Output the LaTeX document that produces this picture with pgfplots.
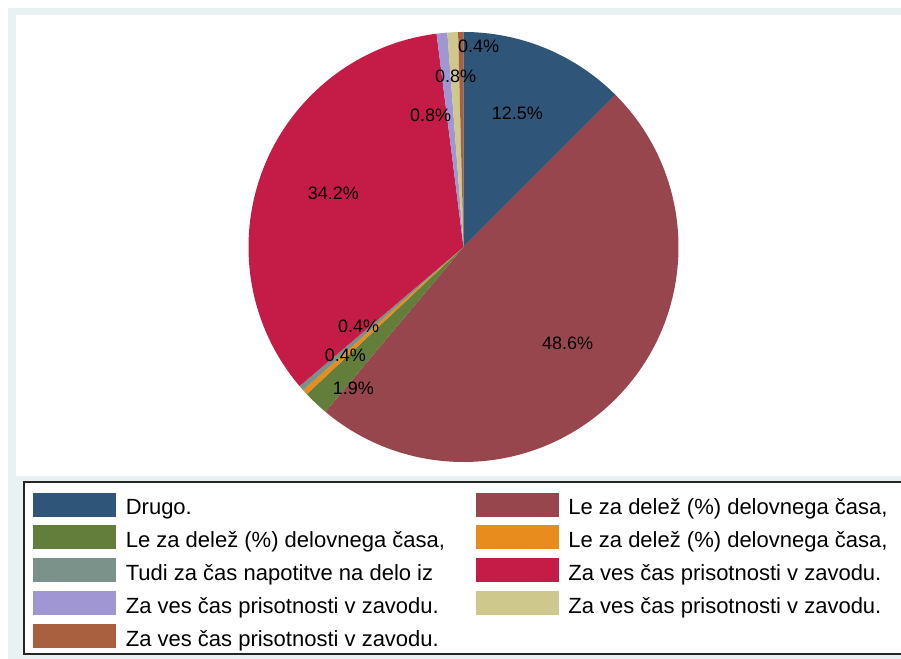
\documentclass[border=0pt]{standalone}
\usepackage{pgfplots}
\pgfplotsset{compat=1.18}
\usepackage{fontspec}
\setmainfont{Liberation Sans}
\definecolor{cA}{HTML}{2F5578}
\definecolor{cB}{HTML}{98464D}
\definecolor{cC}{HTML}{637E3A}
\definecolor{cD}{HTML}{E88C1E}
\definecolor{cE}{HTML}{7A928A}
\definecolor{cF}{HTML}{C41C46}
\definecolor{cG}{HTML}{A096D4}
\definecolor{cH}{HTML}{CEC88D}
\definecolor{cI}{HTML}{A8603E}
\definecolor{paleband}{HTML}{E9F1F3}
\newcommand\pieleg[1]{\addlegendimage{legend image code/.code={\fill[#1] (0pt,-0.75pt) rectangle (61.5pt,16.5pt);}}}
\newcommand\legtxt[1]{\makebox[270pt][l]{\hspace*{7.5pt}#1}}
\newcommand\pct[1]{{\fontsize{13.5}{16}\selectfont #1}}
\begin{document}
\begin{tikzpicture}
\useasboundingbox (0pt,0pt) rectangle (675.75pt,494.25pt);
\fill[white] (0pt,0pt) rectangle (675.75pt,494.25pt);
\fill[paleband] (6pt,0pt) rectangle (675.75pt,488.25pt);
\fill[white] (12pt,137.25pt) rectangle (675.75pt,483pt);
\filldraw[fill=white, draw=black!85, line width=1pt] (18pt,3.75pt) rectangle (680pt,132.75pt);
\begin{axis}[
  at={(347.625pt,309pt)}, anchor=center,
  width=322.5pt, height=322.5pt, scale only axis,
  xmin=-1, xmax=1, ymin=-1, ymax=1,
  hide axis, clip=false,
  legend columns=2,
  legend style={at={(-0.5005,-0.0714)}, anchor=north west,
    draw=none, fill=none, inner sep=0pt, outer sep=0pt,
    row sep=6.95pt, column sep=0pt,
    nodes={inner sep=0pt, outer sep=0pt, text depth=0pt},
    cells={anchor=base west},
    font=\fontsize{16.5}{19.8}\selectfont},
]
\gdef\cumang{90}
\foreach \v/\c in {12.5/cA,48.6/cB,1.9/cC,0.4/cD,0.4/cE,34.2/cF,0.8/cG,0.8/cH,0.4/cI}{
  \pgfmathsetmacro\angb{\cumang-3.6*\v}
  \edef\temp{\noexpand\fill[\c] (axis cs:0,0) -- (axis cs:{cos(\cumang)},{sin(\cumang)}) arc[start angle=\cumang, end angle=\angb, radius=161.25pt] -- cycle;}
  \temp
  \xdef\cumang{\angb}
}
\node at (axis cs:0.251,0.623) {\pct{12.5\%}};
\node at (axis cs:0.484,-0.447) {\pct{48.6\%}};
\node at (axis cs:-0.512,-0.656) {\pct{1.9\%}};
\node at (axis cs:-0.549,-0.502) {\pct{0.4\%}};
\node at (axis cs:-0.488,-0.367) {\pct{0.4\%}};
\node at (axis cs:-0.605,0.251) {\pct{34.2\%}};
\node at (axis cs:-0.153,0.614) {\pct{0.8\%}};
\node at (axis cs:-0.037,0.795) {\pct{0.8\%}};
\node at (axis cs:0.070,0.935) {\pct{0.4\%}};
\pieleg{cA}\addlegendentry{\legtxt{Drugo.}}
\pieleg{cB}\addlegendentry{\legtxt{Le za delež (\%) delovnega časa,}}
\pieleg{cC}\addlegendentry{\legtxt{Le za delež (\%) delovnega časa,}}
\pieleg{cD}\addlegendentry{\hspace*{7.5pt}Le za delež (\%) delovnega časa,}
\pieleg{cE}\addlegendentry{\legtxt{Tudi za čas napotitve na delo iz}}
\pieleg{cF}\addlegendentry{\hspace*{7.5pt}Za ves čas prisotnosti v zavodu.}
\pieleg{cG}\addlegendentry{\legtxt{Za ves čas prisotnosti v zavodu.}}
\pieleg{cH}\addlegendentry{\hspace*{7.5pt}Za ves čas prisotnosti v zavodu.}
\pieleg{cI}\addlegendentry{\legtxt{Za ves čas prisotnosti v zavodu.}}
\end{axis}
\end{tikzpicture}
\end{document}
